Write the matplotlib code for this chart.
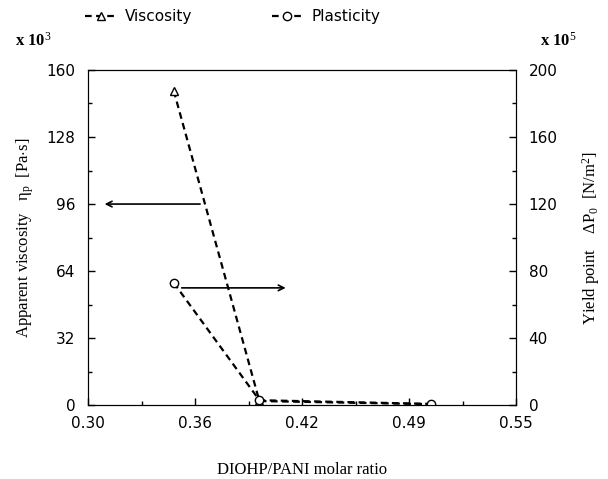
import numpy as np
import matplotlib.pyplot as plt
from matplotlib.lines import Line2D

# data
ratio = [0.35, 0.40, 0.50]
viscosity = [150, 2.0, 0.5]      # x 10^3 Pa.s
plasticity = [73, 3.0, 0.8]      # x 10^5 N/m2

xticks = [0.30, 0.3625, 0.425, 0.4875, 0.55]
xticklabels = ['0.30', '0.36', '0.42', '0.49', '0.55']
left_ticks = [0, 32, 64, 96, 128, 160]
right_ticks = [0, 40, 80, 120, 160, 200]

serif = 'Liberation Serif'
sans = 'DejaVu Sans'

plt.rcParams['mathtext.fontset'] = 'custom'
plt.rcParams['mathtext.rm'] = serif
plt.rcParams['mathtext.it'] = serif
plt.rcParams['mathtext.bf'] = serif + ':bold'

fig = plt.figure(figsize=(6.08, 4.79), dpi=100)
ax = fig.add_axes([0.145, 0.154, 0.704, 0.700])
ax2 = ax.twinx()

ax.plot(ratio, viscosity, ls=(0, (3, 2)), color='k', lw=1.6,
        marker='^', ms=6, mfc='white', mec='k', mew=1)
ax2.plot(ratio, plasticity, ls=(0, (3, 2)), color='k', lw=1.6,
         marker='o', ms=6, mfc='white', mec='k', mew=1)

ax.set_xlim(0.30, 0.55)
ax.set_ylim(0, 160)
ax2.set_ylim(0, 200)
ax.set_xticks(xticks)
ax.set_xticklabels(xticklabels)
ax.set_xticks([0.33125, 0.39375, 0.45625, 0.51875], minor=True)
ax.set_yticks(left_ticks)
ax.set_yticks(np.arange(16, 160, 32), minor=True)
ax2.set_yticks(right_ticks)
ax2.set_yticks(np.arange(20, 200, 40), minor=True)

for a in (ax, ax2):
    a.tick_params(which='both', direction='in', labelsize=11, width=1)
    a.tick_params(which='major', length=5)
    a.tick_params(which='minor', length=3)
    for lab in a.get_xticklabels() + a.get_yticklabels():
        lab.set_family(sans)
ax.tick_params(axis='x', pad=8)
ax.tick_params(axis='y', pad=9)
ax2.tick_params(axis='y', pad=9)

ax.set_xlabel('DIOHP/PANI molar ratio', family=serif, fontsize=12, labelpad=22)
ax.set_ylabel(r'Apparent viscosity   $\eta_p$  [Pa$\cdot$s]', family=serif, fontsize=12, labelpad=8)
ax2.set_ylabel(r'Yield point    $\Delta P_0$  [N/m$^2$]', family=serif, fontsize=12, labelpad=16)

fig.text(0.025, 0.905, r'x 10$^3$', family=serif, fontsize=12, fontweight='bold')
fig.text(0.888, 0.905, r'x 10$^5$', family=serif, fontsize=12, fontweight='bold')

# arrows pointing at the axis each curve belongs to
ax.annotate('', xy=(0.308, 96), xytext=(0.367, 96),
            arrowprops=dict(arrowstyle='->', color='k', lw=1.2))
ax2.annotate('', xy=(0.417, 70), xytext=(0.353, 70),
             arrowprops=dict(arrowstyle='->', color='k', lw=1.2))

handles = [
    Line2D([], [], ls=(0, (3, 2)), color='k', lw=1.6, marker='^', ms=6, mfc='white', mec='k'),
    Line2D([], [], ls=(0, (3, 2)), color='k', lw=1.6, marker='o', ms=6, mfc='white', mec='k'),
]
leg = fig.legend(handles, ['Viscosity', 'Plasticity'], loc='upper left',
                 bbox_to_anchor=(0.118, 1.01), ncol=2, frameon=False,
                 handlelength=2.0, handletextpad=0.6, columnspacing=5.2,
                 prop={'family': sans, 'size': 11})

fig.savefig('out.png', dpi=100)
